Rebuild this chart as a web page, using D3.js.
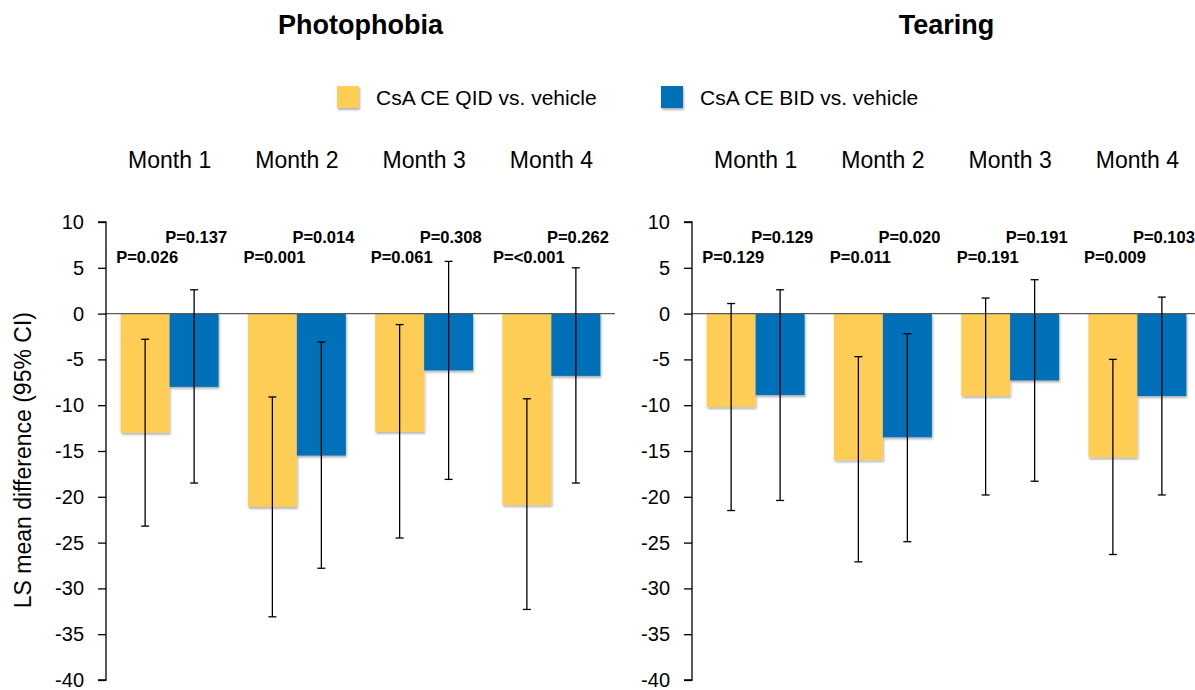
<!DOCTYPE html>
<meta charset="utf-8">
<style>
  body { margin: 0; background: #fff; }
  text { font-family: "Liberation Sans", Arial, sans-serif; fill: #000; }
</style>
<body>
<script src="https://cdn.jsdelivr.net/npm/d3@7"></script>
<script>

// ---- data ----
var months = ["Month 1", "Month 2", "Month 3", "Month 4"];
var seriesNames = ["CsA CE QID vs. vehicle", "CsA CE BID vs. vehicle"];
var yTicks = [10, 5, 0, -5, -10, -15, -20, -25, -30, -35, -40];

// Photophobia
var photoQidMean = [-13.0, -21.1, -12.9, -20.9];
var photoQidLow  = [-23.2, -33.1, -24.5, -32.3];
var photoQidHigh = [-2.8, -9.1, -1.2, -9.3];
var photoBidMean = [-8.0, -15.5, -6.2, -6.8];
var photoBidLow  = [-18.5, -27.8, -18.1, -18.5];
var photoBidHigh = [2.6, -3.1, 5.7, 5.0];
var photoQidP = ["P=0.026", "P=0.001", "P=0.061", "P=<0.001"];
var photoBidP = ["P=0.137", "P=0.014", "P=0.308", "P=0.262"];

// Tearing
var tearQidMean = [-10.2, -16.0, -9.0, -15.7];
var tearQidLow  = [-21.5, -27.1, -19.8, -26.3];
var tearQidHigh = [1.1, -4.7, 1.7, -5.0];
var tearBidMean = [-8.9, -13.5, -7.3, -9.0];
var tearBidLow  = [-20.4, -24.9, -18.3, -19.8];
var tearBidHigh = [2.6, -2.2, 3.7, 1.8];
var tearQidP = ["P=0.129", "P=0.011", "P=0.191", "P=0.009"];
var tearBidP = ["P=0.129", "P=0.020", "P=0.191", "P=0.103"];

var colors = ["#FECD57", "#006FB8"];

var W = 1195, H = 690;

var svg = d3.select("body").append("svg")
    .attr("width", W)
    .attr("height", H);

// soft drop shadow under bars and legend keys
var shadow = svg.append("defs").append("filter")
    .attr("id", "shadow")
    .attr("x", "-10%").attr("y", "-10%")
    .attr("width", "130%").attr("height", "130%");
shadow.append("feDropShadow")
    .attr("dx", 1).attr("dy", 2)
    .attr("stdDeviation", 1)
    .attr("flood-color", "#000")
    .attr("flood-opacity", 0.3);

// shared value scale
var y = d3.scaleLinear()
    .domain([-40, 10])
    .range([680, 222]);

function pack(mean, low, high, p) {
  return months.map(function(m, i) {
    return { month: m, mean: mean[i], low: low[i], high: high[i], p: p[i] };
  });
}

var panels = [
  { title: "Photophobia", left: 106, width: 509, yLabel: true,
    series: [pack(photoQidMean, photoQidLow, photoQidHigh, photoQidP),
             pack(photoBidMean, photoBidLow, photoBidHigh, photoBidP)] },
  { title: "Tearing", left: 692, width: 509, yLabel: false,
    series: [pack(tearQidMean, tearQidLow, tearQidHigh, tearQidP),
             pack(tearBidMean, tearBidLow, tearBidHigh, tearBidP)] }
];

// P label rows: QID lower row, BID upper row
var pRowY = [263, 243];

panels.forEach(function(panel) {
  var g = svg.append("g")
      .attr("transform", "translate(" + panel.left + ",0)");

  var x0 = d3.scaleBand()
      .domain(months)
      .range([0, panel.width])
      .paddingInner(0.23)
      .paddingOuter(0.115);

  var x1 = d3.scaleBand()
      .domain([0, 1])
      .range([0, x0.bandwidth()]);

  // title
  g.append("text")
      .attr("x", panel.width / 2)
      .attr("y", 34)
      .attr("text-anchor", "middle")
      .style("font-weight", "bold")
      .style("font-size", "27px")
      .text(panel.title);

  // month labels
  g.selectAll(".month")
      .data(months)
    .enter().append("text")
      .attr("class", "month")
      .attr("x", function(d) { return x0(d) + x0.bandwidth() / 2; })
      .attr("y", 168)
      .attr("text-anchor", "middle")
      .style("font-size", "23px")
      .text(function(d) { return d; });

  // bars
  panel.series.forEach(function(data, s) {
    g.selectAll(".bar" + s)
        .data(data)
      .enter().append("rect")
        .attr("class", "bar" + s)
        .attr("x", function(d) { return x0(d.month) + x1(s); })
        .attr("width", x1.bandwidth())
        .attr("y", function(d) { return y(Math.max(0, d.mean)); })
        .attr("height", function(d) { return Math.abs(y(d.mean) - y(0)); })
        .attr("fill", colors[s])
        .attr("filter", "url(#shadow)");
  });

  // zero line
  g.append("line")
      .attr("x1", 0).attr("x2", panel.width)
      .attr("y1", y(0)).attr("y2", y(0))
      .attr("stroke", "#595959")
      .attr("stroke-width", 1.3);

  // error bars and p values
  panel.series.forEach(function(data, s) {
    var cx = function(d) { return x0(d.month) + x1(s) + x1.bandwidth() / 2; };
    var eb = g.selectAll(".err" + s)
        .data(data)
      .enter().append("g")
        .attr("class", "err" + s);
    eb.append("line")
        .attr("x1", cx).attr("x2", cx)
        .attr("y1", function(d) { return y(d.high); })
        .attr("y2", function(d) { return y(d.low); });
    eb.append("line")
        .attr("x1", function(d) { return cx(d) - 4; })
        .attr("x2", function(d) { return cx(d) + 4; })
        .attr("y1", function(d) { return y(d.high); })
        .attr("y2", function(d) { return y(d.high); });
    eb.append("line")
        .attr("x1", function(d) { return cx(d) - 4; })
        .attr("x2", function(d) { return cx(d) + 4; })
        .attr("y1", function(d) { return y(d.low); })
        .attr("y2", function(d) { return y(d.low); });
    eb.selectAll("line")
        .attr("stroke", "#000")
        .attr("stroke-width", 1.3);

    g.selectAll(".p" + s)
        .data(data)
      .enter().append("text")
        .attr("class", "p" + s)
        .attr("x", function(d) { return cx(d) + 2; })
        .attr("y", pRowY[s])
        .attr("text-anchor", "middle")
        .style("font-weight", "bold")
        .style("font-size", "16.5px")
        .text(function(d) { return d.p; });
  });

  // y axis
  var axis = g.append("g")
      .call(d3.axisLeft(y)
        .tickValues(yTicks)
        .tickSize(8)
        .tickPadding(14)
        .tickFormat(d3.format("d")));
  axis.select(".domain")
      .attr("d", "M-8," + y(10) + "H0V" + y(-40) + "H-8")
      .attr("stroke", "#000")
      .attr("stroke-width", 1.3);
  axis.selectAll(".tick line").attr("stroke", "#000").attr("stroke-width", 1.3);
  axis.selectAll(".tick text")
      .style("font-size", "20px")
      .style("font-family", "'Liberation Sans', Arial, sans-serif")
      .attr("fill", "#000")
      .text(function(d) { return d < 0 ? "-" + Math.abs(d) : d; });

  if (panel.yLabel) {
    svg.append("text")
        .attr("transform", "translate(31," + y(-16) + ") rotate(-90)")
        .attr("text-anchor", "middle")
        .style("font-size", "23px")
        .text("LS mean difference (95% CI)");
  }
});

// legend
var legend = svg.selectAll(".legend")
    .data(seriesNames)
  .enter().append("g")
    .attr("class", "legend")
    .attr("transform", function(d, i) { return "translate(" + (337 + i * 324) + ",86)"; });
legend.append("rect")
    .attr("width", 22)
    .attr("height", 22)
    .attr("fill", function(d, i) { return colors[i]; })
    .attr("filter", "url(#shadow)");
legend.append("text")
    .attr("x", 39)
    .attr("y", 19)
    .style("font-size", "21px")
    .text(function(d) { return d; });

</script>
</body>
